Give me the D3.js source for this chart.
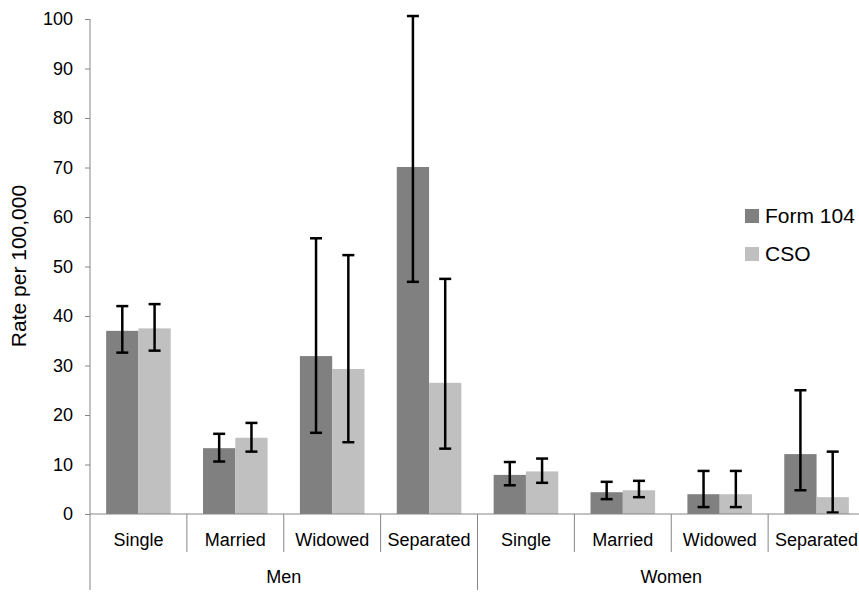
<!DOCTYPE html>
<html>
<head>
<meta charset="utf-8">
<script src="https://cdn.jsdelivr.net/npm/d3@7"></script>
<style>
  html, body { margin: 0; padding: 0; background: #fff; }
  svg { display: block; font-family: "Liberation Sans", Arial, sans-serif; }
</style>
</head>
<body>
<svg id="chart" width="859" height="592"></svg>
<script>
// Suicide rate per 100,000 by marital status, two data sources
const groups = ["Men", "Women"];
const statuses = ["Single", "Married", "Widowed", "Separated"];
const series = ["Form 104", "CSO"];
const seriesColors = ["#808080", "#c0c0c0"];

// values in category order: Men (Single..Separated), Women (Single..Separated)
const form104 = [37.0, 13.3, 31.9, 70.1, 7.9, 4.4, 4.0, 12.1];
const form104Low = [32.6, 10.6, 16.4, 46.9, 5.8, 3.0, 1.4, 4.8];
const form104High = [42.0, 16.2, 55.7, 100.6, 10.5, 6.5, 8.7, 25.0];
const cso = [37.5, 15.4, 29.3, 26.5, 8.6, 4.8, 4.0, 3.4];
const csoLow = [33.0, 12.6, 14.5, 13.2, 6.3, 3.4, 1.4, 0.3];
const csoHigh = [42.4, 18.4, 52.3, 47.5, 11.2, 6.7, 8.7, 12.6];
const yTicks = [0, 10, 20, 30, 40, 50, 60, 70, 80, 90, 100];

const svg = d3.select("#chart");
const plot = { left: 90, right: 865, top: 19, bottom: 514 };

const categories = [];
groups.forEach(g => statuses.forEach(s => categories.push(g + "|" + s)));

const rows = categories.map((c, i) => ({
  key: c,
  values: [
    { s: series[0], v: form104[i], lo: form104Low[i], hi: form104High[i] },
    { s: series[1], v: cso[i], lo: csoLow[i], hi: csoHigh[i] }
  ]
}));

const x = d3.scaleBand().domain(categories).range([plot.left, plot.right]).padding(0);
const bw = x.bandwidth();
const xs = d3.scaleBand().domain(series).range([bw / 6, bw * 5 / 6]).padding(0);
const y = d3.scaleLinear().domain([0, 100]).range([plot.bottom, plot.top]);
const color = d3.scaleOrdinal().domain(series).range(seriesColors);

// y axis
const yAxis = d3.axisLeft(y).tickValues(yTicks).tickSize(5).tickPadding(12).tickFormat(d3.format("d"));
const gy = svg.append("g").attr("transform", `translate(${plot.left},0)`).call(yAxis);
gy.select(".domain").remove();
gy.selectAll(".tick line").attr("stroke", "#868686");
gy.selectAll(".tick text").attr("font-size", 18).attr("fill", "#000")
  .attr("font-family", "Liberation Sans, Arial, sans-serif");
svg.append("line").attr("x1", plot.left).attr("x2", plot.left).attr("y1", plot.top).attr("y2", 590)
  .attr("stroke", "#868686").attr("stroke-width", 1);

// y title
svg.append("text")
  .attr("transform", `translate(26,${(180 + 352) / 2}) rotate(-90)`)
  .attr("text-anchor", "middle").attr("font-size", 21).attr("fill", "#000")
  .text("Rate per 100,000");

// bars
const cat = svg.append("g").selectAll("g").data(rows).join("g")
  .attr("transform", d => `translate(${x(d.key)},0)`);
cat.selectAll("rect").data(d => d.values).join("rect")
  .attr("x", d => xs(d.s)).attr("width", xs.bandwidth())
  .attr("y", d => y(d.v)).attr("height", d => y(0) - y(d.v))
  .attr("fill", d => color(d.s));

// error bars
const eb = cat.selectAll("g.err").data(d => d.values).join("g").attr("class", "err")
  .attr("transform", d => `translate(${xs(d.s) + xs.bandwidth() / 2},0)`);
eb.append("line").attr("y1", d => y(d.lo)).attr("y2", d => y(d.hi))
  .attr("stroke", "#000").attr("stroke-width", 2.5);
eb.append("line").attr("x1", -6).attr("x2", 6).attr("y1", d => y(d.hi)).attr("y2", d => y(d.hi))
  .attr("stroke", "#000").attr("stroke-width", 2.5);
eb.append("line").attr("x1", -6).attr("x2", 6).attr("y1", d => y(d.lo)).attr("y2", d => y(d.lo))
  .attr("stroke", "#000").attr("stroke-width", 2.5);

// x axis baseline
svg.append("line").attr("x1", plot.left).attr("x2", plot.right).attr("y1", y(0)).attr("y2", y(0))
  .attr("stroke", "#868686");

// category separators and labels
categories.forEach((c, i) => {
  if (i > 0) {
    const groupEdge = i % statuses.length === 0;
    svg.append("line").attr("x1", x(c)).attr("x2", x(c))
      .attr("y1", y(0)).attr("y2", groupEdge ? 590 : 552)
      .attr("stroke", "#868686");
  }
  svg.append("text").attr("x", x(c) + bw / 2).attr("y", 546)
    .attr("text-anchor", "middle").attr("font-size", 18).attr("fill", "#000")
    .text(c.split("|")[1]);
});
svg.append("line").attr("x1", plot.right).attr("x2", plot.right).attr("y1", y(0)).attr("y2", 590)
  .attr("stroke", "#868686");

// group labels
groups.forEach(g => {
  const x0 = x(g + "|" + statuses[0]);
  const x1 = x(g + "|" + statuses[statuses.length - 1]) + bw;
  svg.append("text").attr("x", (x0 + x1) / 2).attr("y", 583)
    .attr("text-anchor", "middle").attr("font-size", 18).attr("fill", "#000").text(g);
});

// legend
const legend = svg.append("g").selectAll("g").data(series).join("g")
  .attr("transform", (d, i) => `translate(745,${209 + i * 38})`);
legend.append("rect").attr("width", 14).attr("height", 14).attr("fill", d => color(d));
legend.append("text").attr("x", 20).attr("y", 14).attr("font-size", 21).attr("fill", "#000").text(d => d);
</script>
</body>
</html>
